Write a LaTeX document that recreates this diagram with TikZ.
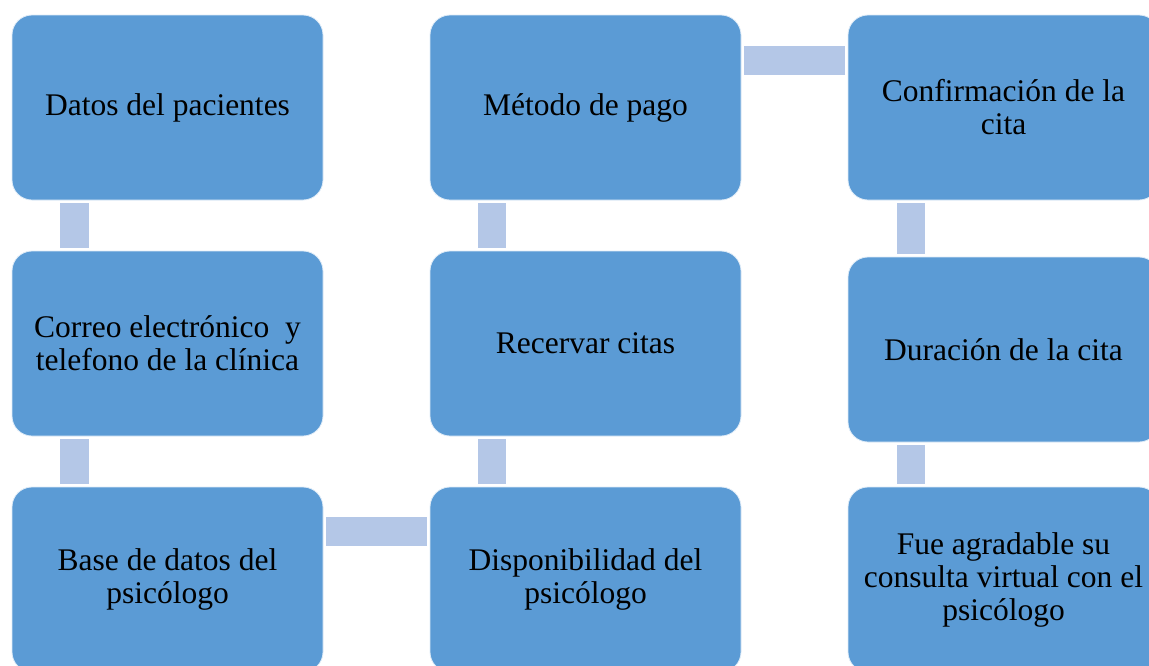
\documentclass[tikz,border=0pt]{standalone}
\usepackage{fontspec}
\setmainfont{Liberation Serif}
\definecolor{boxblue}{HTML}{5B9BD5}
\definecolor{connblue}{HTML}{B4C7E7}
\begin{document}
\begin{tikzpicture}[x=1pt,y=-1pt,
  box/.style={rectangle, rounded corners=20pt, fill=boxblue, draw=white!80!boxblue, line width=0.8pt,
    minimum width=311pt, minimum height=185pt, align=center, inner sep=0pt,
    font=\fontsize{31.5}{33}\selectfont},
  conn/.style={fill=connblue}]
\useasboundingbox (0,0) rectangle (1149,665);
\clip (0,0) rectangle (1149,665);
% column 1
\node[box] (a1) at (167.5,107.5) {Datos del pacientes};
\node[box] (a2) at (167.5,343.5) {Correo electrónico\ \ y\\telefono de la clínica};
\node[box] (a3) at (167.5,579.5) {Base de datos del\\psicólogo};
% column 2
\node[box] (b3) at (585.5,579.5) {Disponibilidad del\\psicólogo};
\node[box] (b2) at (585.5,343.5) {Recervar citas};
\node[box] (b1) at (585.5,107.5) {Método de pago};
% column 3
\node[box] (c1) at (1003.5,107.5) {Confirmación de la\\cita};
\node[box] (c2) at (1003.5,349.5) {Duración de la cita};
\node[box] (c3) at (1003.5,579.5) {Fue agradable su\\consulta virtual con el\\psicólogo};
% connectors
\fill[conn] ([xshift=48pt,yshift=-3pt]a1.south west) rectangle ([xshift=77pt,yshift=3pt]a2.north west);
\fill[conn] ([xshift=48pt,yshift=-3pt]a2.south west) rectangle ([xshift=77pt,yshift=3pt]a3.north west);
\fill[conn] ([xshift=3pt,yshift=-30pt]a3.north east) rectangle ([xshift=-3pt,yshift=-59pt]b3.north west);
\fill[conn] ([xshift=48pt,yshift=3pt]b3.north west) rectangle ([xshift=76pt,yshift=-3pt]b2.south west);
\fill[conn] ([xshift=48pt,yshift=3pt]b2.north west) rectangle ([xshift=76pt,yshift=-3pt]b1.south west);
\fill[conn] ([xshift=3pt,yshift=-31pt]b1.north east) rectangle ([xshift=-3pt,yshift=-60pt]c1.north west);
\fill[conn] ([xshift=49pt,yshift=-3pt]c1.south west) rectangle ([xshift=77pt,yshift=3pt]c2.north west);
\fill[conn] ([xshift=49pt,yshift=-3pt]c2.south west) rectangle ([xshift=77pt,yshift=3pt]c3.north west);
\end{tikzpicture}
\end{document}
